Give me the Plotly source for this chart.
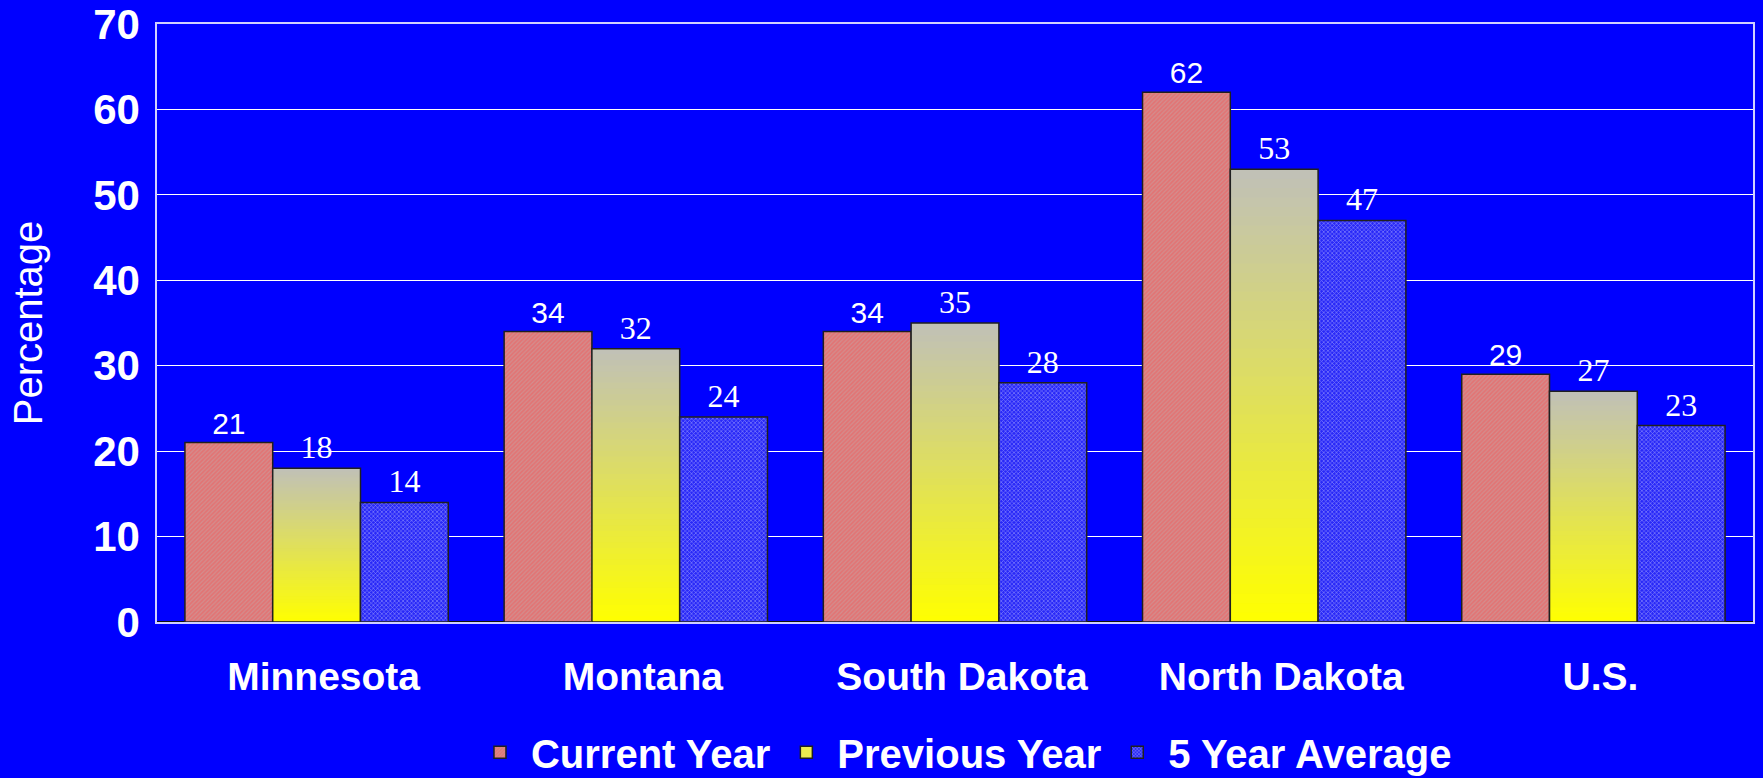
import plotly.graph_objects as go

categories = ["Minnesota", "Montana", "South Dakota", "North Dakota", "U.S."]
current_year = [21, 34, 34, 62, 29]
previous_year = [18, 32, 35, 53, 27]
five_year_avg = [14, 24, 28, 47, 23]
y_ticks = [0, 10, 20, 30, 40, 50, 60, 70]

BLUE = "#0000FF"
N_SEG = 48
GRAD_BOTTOM = (255, 255, 0)
GRAD_TOP = (192, 192, 184)

fig = go.Figure()

# Current Year: salmon with fine hatch
fig.add_trace(go.Bar(
    x=categories, y=current_year, name="Current Year", offsetgroup="a",
    marker=dict(color="#D88080", line=dict(color="#202020", width=1.5),
                pattern=dict(shape="/", size=3, solidity=0.4,
                             bgcolor="#E27474", fgcolor="#C4A8A8")),
    text=[str(v) for v in current_year], textposition="outside",
    textfont=dict(family="Liberation Sans, Arial, sans-serif", size=30, color="white"),
    cliponaxis=False,
))

# Previous Year: vertical gradient, built from progressively shorter overlaid bars
for k in range(N_SEG):
    frac = (N_SEG - k) / N_SEG
    t = (N_SEG - k - 0.5) / N_SEG
    r = round(GRAD_BOTTOM[0] + (GRAD_TOP[0] - GRAD_BOTTOM[0]) * t)
    g = round(GRAD_BOTTOM[1] + (GRAD_TOP[1] - GRAD_BOTTOM[1]) * t)
    b = round(GRAD_BOTTOM[2] + (GRAD_TOP[2] - GRAD_BOTTOM[2]) * t)
    fig.add_trace(go.Bar(
        x=categories,
        y=[v * frac for v in previous_year],
        offsetgroup="b", showlegend=False, hoverinfo="skip",
        marker=dict(color=f"rgb({r},{g},{b})", line=dict(width=0)),
    ))
# outline + labels
fig.add_trace(go.Bar(
    x=categories, y=previous_year, offsetgroup="b", showlegend=False,
    marker=dict(color="rgba(0,0,0,0)", line=dict(color="#202020", width=1.5)),
    text=[str(v) for v in previous_year], textposition="outside",
    textfont=dict(family="Liberation Serif, Times New Roman, serif", size=32, color="white"),
    cliponaxis=False,
))
# legend-only entry
fig.add_trace(go.Bar(
    x=categories, y=[None] * len(categories), offsetgroup="b", name="Previous Year",
    marker=dict(color="#ECEC50", line=dict(color="#202020", width=1.5)),
))

# 5 Year Average: blue with white fine dots
fig.add_trace(go.Bar(
    x=categories, y=five_year_avg, name="5 Year Average", offsetgroup="c",
    marker=dict(color="#6060F0", line=dict(color="#202020", width=1.5),
                pattern=dict(shape="x", size=3, solidity=0.4,
                             bgcolor="#2828F8", fgcolor="#D8D8FF")),
    text=[str(v) for v in five_year_avg], textposition="outside",
    textfont=dict(family="Liberation Serif, Times New Roman, serif", size=32, color="white"),
    cliponaxis=False,
))

fig.update_layout(
    width=1763, height=778,
    paper_bgcolor=BLUE, plot_bgcolor=BLUE,
    barmode="group", bargap=0.175, bargroupgap=0.0,
    margin=dict(l=157, r=10, t=24, b=156, autoexpand=False),
    font=dict(family="Liberation Sans, Arial, sans-serif", color="white"),
    showlegend=True,
    legend=dict(orientation="h", x=0.505, xanchor="center", y=-0.218, yanchor="middle",
                font=dict(size=40, family="Liberation Sans, Arial, sans-serif", color="white",
                          weight="bold"),
                bgcolor="rgba(0,0,0,0)", itemwidth=52, traceorder="normal"),
)
fig.update_xaxes(
    showgrid=False, showline=True, linecolor="#D0D0FF", linewidth=1.5, mirror=True,
    tickfont=dict(size=39, weight="bold", color="white"),
    ticks="", ticklabelstandoff=19, ticklabelshift=7, automargin=False,
)
fig.update_yaxes(
    range=[0, 70], tickvals=y_ticks, showgrid=True, gridcolor="white", gridwidth=1,
    zeroline=True, zerolinecolor="#101010", zerolinewidth=2,
    showline=True, linecolor="#D0D0FF", linewidth=1.5, mirror=True,
    tickfont=dict(size=42, weight="bold", color="white"), ticks="", ticklabelstandoff=7,
    ticklabeloverflow="allow",
    title=dict(text="Percentage", font=dict(size=40, color="white"), standoff=38),
    automargin=False,
)

fig.write_html("out.html", config={"displayModeBar": False},
               post_script="document.body.style.margin='0';")
